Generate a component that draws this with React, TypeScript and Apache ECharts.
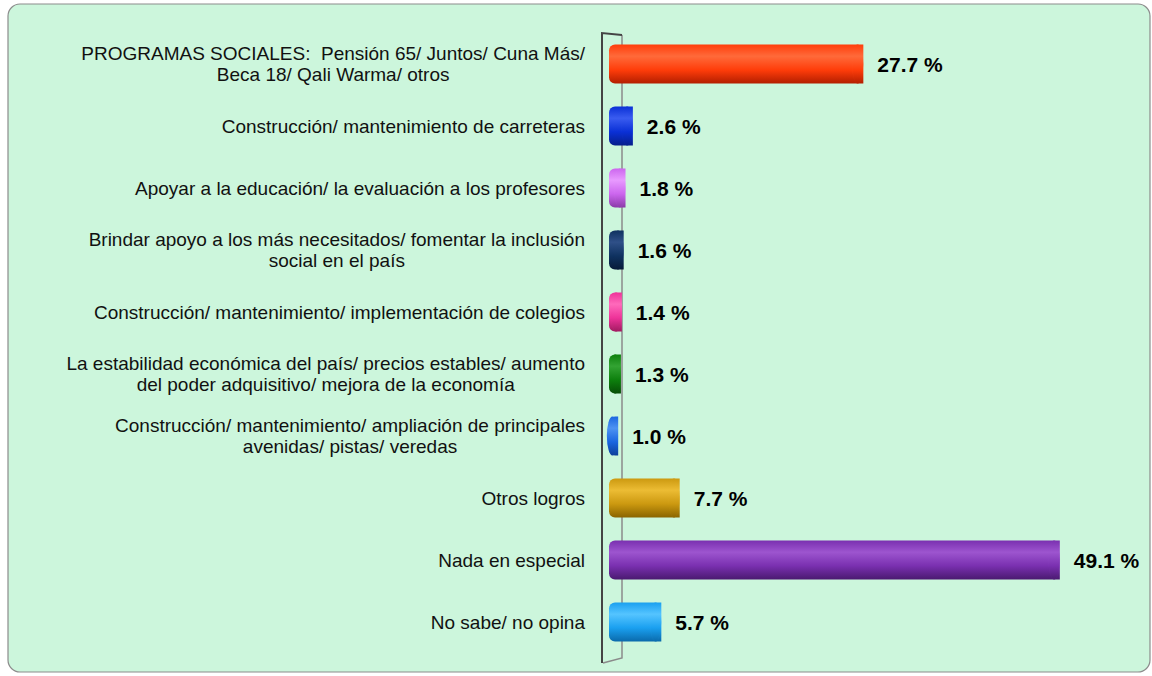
import React, { useEffect, useRef } from "react";
import * as echarts from "echarts";

const categories: string[] = [
  "PROGRAMAS SOCIALES:  Pensión 65/ Juntos/ Cuna Más/\nBeca 18/ Qali Warma/ otros",
  "Construcción/ mantenimiento de carreteras",
  "Apoyar a la educación/ la evaluación a los profesores",
  "Brindar apoyo a los más necesitados/ fomentar la inclusión\nsocial en el país",
  "Construcción/ mantenimiento/ implementación de colegios",
  "La estabilidad económica del país/ precios estables/ aumento\ndel poder adquisitivo/ mejora de la economía",
  "Construcción/ mantenimiento/ ampliación de principales\navenidas/ pistas/ veredas",
  "Otros logros",
  "Nada en especial",
  "No sabe/ no opina",
];

const values: number[] = [27.7, 2.6, 1.8, 1.6, 1.4, 1.3, 1.0, 7.7, 49.1, 5.7];

// [light, base, dark]
const palette: string[][] = [
  ["#ff6a3a", "#ff3d0a", "#b31e00"],
  ["#3a5cf0", "#0a30d6", "#061e8a"],
  ["#e89aff", "#cc66ee", "#8a3aa8"],
  ["#2f5088", "#0f3260", "#061a38"],
  ["#ff6abb", "#ee3399", "#a01a60"],
  ["#33a333", "#0d800d", "#064d06"],
  ["#4d93f2", "#1a66e0", "#0d3f99"],
  ["#ecbc34", "#cc9910", "#8a6400"],
  ["#9d55cf", "#7a30b0", "#4a1a70"],
  ["#55c4ff", "#1aa0f0", "#0a6aab"],
];

const FONT = "'Liberation Sans', Arial, Helvetica, sans-serif";
const LABEL_SIZE = 19;

function bodyGradient(c: string[]) {
  return new echarts.graphic.LinearGradient(0, 0, 0, 1, [
    { offset: 0, color: c[1] },
    { offset: 0.3, color: c[0] },
    { offset: 0.65, color: c[1] },
    { offset: 1, color: c[2] },
  ]);
}

export default function App() {
  const ref = useRef<HTMLDivElement>(null);

  useEffect(() => {
    document.body.style.margin = "0";
    if (!ref.current) return;
    const chart = echarts.init(ref.current, undefined, { renderer: "svg" });

    const option: any = {
      animation: false,
      graphic: [
        {
          type: "rect",
          z: -10,
          shape: { x: 8, y: 4, width: 1142, height: 668, r: 12 },
          style: { fill: "#ccf6dc", stroke: "#8c8c8c", lineWidth: 1.2 },
        },
        {
          type: "polyline",
          z: -5,
          shape: { points: [[622, 35], [622, 658], [603, 663]] },
          style: { stroke: "#8a8a8a", lineWidth: 1.5, fill: null },
        },
        {
          type: "polyline",
          z: 5,
          shape: { points: [[602, 663], [602, 33], [622, 35]] },
          style: { stroke: "#444", lineWidth: 2, fill: null },
        },
      ],
      grid: { left: 609, right: 38, top: 33, bottom: 23, containLabel: false },
      xAxis: { type: "value", min: 0, max: 55, show: false },
      yAxis: {
        type: "category",
        data: categories,
        inverse: true,
        axisLine: { show: false },
        axisTick: { show: false },
        splitLine: { show: false },
        axisLabel: {
          margin: 24,
          align: "right",
          color: "#111",
          fontFamily: FONT,
          fontSize: LABEL_SIZE,
          lineHeight: 21,
          formatter: (v: string) =>
            v
              .split("\n")
              .map((l) => `{c|${l}}`)
              .join("\n"),
          rich: {
            c: {
              align: "center",
              color: "#111",
              fontFamily: FONT,
              fontSize: LABEL_SIZE,
              lineHeight: 21,
            },
          },
        },
      },
      series: [
        {
          type: "bar",
          barWidth: 39,
          z: 2,
          data: values.map((v, i) => ({
            value: v,
            itemStyle: {
              color: bodyGradient(palette[i]),
              borderRadius: [6, 0, 0, 6],
            },
          })),
          label: {
            show: true,
            position: "right",
            distance: 14,
            formatter: (p: any) => `${Number(p.value).toFixed(1)} %`,
            fontFamily: FONT,
            fontWeight: "bold",
            fontSize: 21,
            color: "#000",
          },
        },
        {
          type: "pictorialBar",
          z: 3,
          symbol: "path://M0,50 A50,50 0 1,1 100,50 A50,50 0 1,1 0,50 Z",
          symbolSize: [11, 39],
          symbolPosition: "end",
          data: values.map((v, i) => ({
            value: v,
            itemStyle: {
              color: bodyGradient(palette[i]),
              borderColor: palette[i][0],
              borderWidth: 0.8,
            },
          })),
        },
      ],
    };

    chart.setOption(option);
    return () => chart.dispose();
  }, []);

  return <div ref={ref} style={{ width: 1152, height: 676 }} />;
}
